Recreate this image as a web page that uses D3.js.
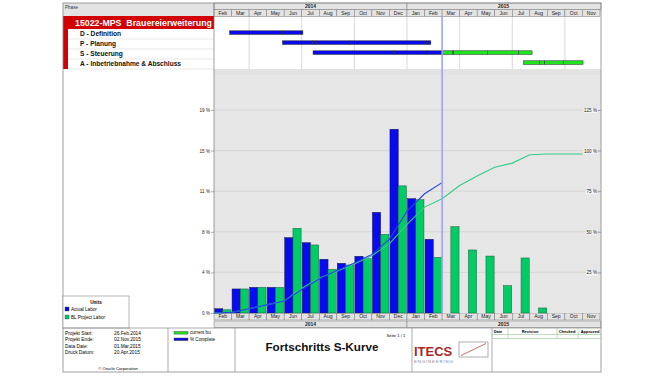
<!DOCTYPE html>
<html><head><meta charset="utf-8">
<script src="https://cdn.jsdelivr.net/npm/d3@7"></script>
<style>body{margin:0;background:#fff} text{font-family:"Liberation Sans",Arial,sans-serif}</style>
</head><body><svg id="c" width="660" height="380"></svg>
<script>
// ---------- data ----------
const monthNames = ["Feb","Mar","Apr","May","Jun","Jul","Aug","Sep","Oct","Nov","Dec","Jan","Feb","Mar","Apr","May","Jun","Jul","Aug","Sep","Oct","Nov"];
const years = ["2014","2015"];
const yearStartIdx = [0, 11];
const yearEndIdx = [11, 22];
// monthly labour in % of total (left axis)
const actualLabor = [0.4,2.25,2.4,2.4,7.05,6.58,5.03,4.65,5.31,9.42,17.2,10.7,6.9];
const blProjectLabor = [0.3,2.25,2.4,2.4,7.93,6.37,4.09,4.49,5.08,7.36,11.9,10.6,5.21,8.08,5.9,5.33,2.56,5.15,0.47,0,0,0];
// cumulative curves at month boundaries, starting 1 Feb 2014 (right axis)
const pctComplete = [0,0.4,2.6,5.0,7.4,14.5,21.1,26.1,30.8,36.1,45.5,62.7,73.4,80.3];
const currentBudget = [0,0.3,2.6,5.0,7.4,15.3,21.6,25.7,30.2,35.3,42.7,54.6,65.2,70.4,78.5,84.4,89.7,92.3,97.4,97.9,97.9,97.9];
const leftTicks = [0,3.8,7.6,11.4,15.2,19];
const leftTickLabels = ["0 %","4 %","8 %","11 %","15 %","19 %"];
const rightTicks = [25,50,75,100,125];
const rightTickLabels = ["25 %","50 %","75 %","100 %","125 %"];
const phases = ["D - Definition","P - Planung","S - Steuerung","A - Inbetriebnahme & Abschluss"];
const ganttActual = [
  ["2014-02-26","2014-05-29","2014-07-03"],
  ["2014-05-29","2014-07-20","2014-07-27","2014-09-22","2015-02-04","2015-02-11"],
  ["2014-07-21","2014-12-10","2015-02-05","2015-03-01"],
  []
];
const ganttRemaining = [
  [],
  [],
  ["2015-03-01","2015-03-19","2015-03-21","2015-05-19","2015-07-12","2015-08-05"],
  ["2015-07-21","2015-08-18","2015-08-27","2015-09-29","2015-11-02"]
];
const dataDate = "2015-03-01";
const projectTitle = "15022-MPS  Brauereierweiterung";
const infoLabels = ["Projekt Start:","Projekt Ende:","Data Date:","Druck Datum:"];
const infoValues = ["26.Feb.2014","02.Nov.2015","01.Mar.2015","20.Apr.2015"];
const revisionHeaders = ["Date","Revision","Checked","Approved"];

// ---------- layout ----------
const svg = d3.select("#c");
const L = 63, R = 601, T = 3, B = 372;
const X0 = 214, X1 = 600;
const chartTop = 75, chartBot = 313;
const font = 5;

const mIdx = s => { const [y,m,d] = s.split("-").map(Number); const dim = new Date(y, m, 0).getDate(); return (y-2014)*12 + (m-2) + (d-1)/dim; };
const xLin = d3.scaleLinear().domain([0, monthNames.length]).range([X0, X1]);
const xBand = d3.scaleBand().domain(d3.range(monthNames.length)).range([X0, X1]);
const bw = xBand.bandwidth();
const yL = d3.scaleLinear().domain([0, 19]).range([chartBot, 110]);
const yR = d3.scaleLinear().domain([0, 125]).range([chartBot, 110]);

// header left
svg.append("rect").attr("x",L).attr("y",T).attr("width",X0-L).attr("height",13).attr("fill","#e3e3e3");
svg.append("text").attr("x",L+2).attr("y",T+5.5).attr("font-size",4.6).attr("fill","#333").text("Phase");
svg.append("rect").attr("x",L).attr("y",16).attr("width",X0-L).attr("height",13).attr("fill","#d20000");
svg.append("text").attr("x",75).attr("y",26).attr("font-size",8.8).attr("font-weight","bold").attr("fill","#fff").style("white-space","pre").text(projectTitle);
svg.append("rect").attr("x",L).attr("y",29).attr("width",5).attr("height",40).attr("fill","#d20000");
phases.forEach((p,i)=>{
  const top = 29 + i*10;
  svg.append("line").attr("x1",68).attr("x2",X0).attr("y1",top+10).attr("y2",top+10).attr("stroke","#d8d8d8").attr("stroke-width",0.6);
  svg.append("text").attr("x",80).attr("y",top+7).attr("font-size",6.6).attr("font-weight","bold").attr("fill","#111").text(p);
});

// gantt area
svg.append("rect").attr("x",X0).attr("y",16).attr("width",R-X0).attr("height",53).attr("fill","#fff");
[2,5,8,11,14,17,20].forEach(i=>{
  svg.append("line").attr("x1",xLin(i)).attr("x2",xLin(i)).attr("y1",16).attr("y2",69).attr("stroke","#c8c8c8").attr("stroke-width",0.7);
});
function segs(arr){ const o=[]; for(let k=0;k<arr.length-1;k++) o.push([arr[k],arr[k+1]]); return o; }
phases.forEach((p,i)=>{
  const top = 29 + i*10 + 1.8;
  [[ganttActual[i],"#0a0aee"],[ganttRemaining[i],"#1ee61e"]].forEach(([arr,col])=>{
    svg.append("g").selectAll("rect").data(segs(arr)).join("rect")
      .attr("x",d=>xLin(mIdx(d[0]))).attr("width",d=>xLin(mIdx(d[1]))-xLin(mIdx(d[0])))
      .attr("y",top).attr("height",3.6).attr("fill",col).attr("stroke","#222").attr("stroke-width",0.5);
  });
});
svg.append("rect").attr("x",X0).attr("y",69).attr("width",R-X0).attr("height",6).attr("fill","#e3e3e3");

// timeline header
function timeHeader(yMonth, yYear){
  const g = svg.append("g");
  g.selectAll("rect.m").data(monthNames).join("rect").attr("class","m")
    .attr("x",(d,i)=>xBand(i)).attr("y",yMonth).attr("width",bw).attr("height",7)
    .attr("fill","#e3e3e3").attr("stroke","#777").attr("stroke-width",0.5);
  g.selectAll("text.m").data(monthNames).join("text").attr("class","m")
    .attr("x",(d,i)=>xBand(i)+bw/2).attr("y",yMonth+5.4).attr("text-anchor","middle")
    .attr("font-size",font).attr("fill","#222").text(d=>d);
  g.selectAll("rect.y").data(years).join("rect").attr("class","y")
    .attr("x",(d,i)=>xLin(yearStartIdx[i])).attr("y",yYear)
    .attr("width",(d,i)=>(i===years.length-1?R:xLin(yearEndIdx[i]))-xLin(yearStartIdx[i])).attr("height",6.5)
    .attr("fill","#e3e3e3").attr("stroke","#777").attr("stroke-width",0.5);
  g.selectAll("text.y").data(years).join("text").attr("class","y")
    .attr("x",(d,i)=>(xLin(yearStartIdx[i])+xLin(yearEndIdx[i]))/2).attr("y",yYear+5)
    .attr("text-anchor","middle").attr("font-size",font).attr("font-weight","bold").attr("fill","#222").text(d=>d);
}
timeHeader(9.5, 3);
timeHeader(313, 321);

// chart
svg.append("rect").attr("x",X0).attr("y",chartTop).attr("width",R-X0).attr("height",chartBot-chartTop).attr("fill","#e6e6e6");
svg.append("g").selectAll("line").data(leftTicks.slice(1)).join("line")
  .attr("x1",X0).attr("x2",R).attr("y1",d=>yL(d)).attr("y2",d=>yL(d)).attr("stroke","#d0d0d0").attr("stroke-width",0.7);

const bars = svg.append("g");
bars.selectAll("rect.a").data(actualLabor).join("rect").attr("class","a")
  .attr("x",(d,i)=>xBand(i)+0.5).attr("width",bw/2-0.5)
  .attr("y",d=>yL(d)).attr("height",d=>chartBot-yL(d))
  .attr("fill","#0a0af0").attr("stroke","#1a1a40").attr("stroke-width",0.5);
bars.selectAll("rect.b").data(blProjectLabor).join("rect").attr("class","b")
  .attr("x",(d,i)=>xBand(i)+bw/2).attr("width",bw/2-0.6)
  .attr("y",d=>yL(d)).attr("height",d=>chartBot-yL(d))
  .attr("fill","#00cc66").attr("stroke","#1d5a3a").attr("stroke-width",d=>d>0?0.5:0);

const line = d3.line().x((d,i)=>xLin(i)).y(d=>yR(d));
svg.append("path").datum(currentBudget).attr("d",line).attr("fill","none").attr("stroke","#33cc88").attr("stroke-width",1.1);
svg.append("path").datum(pctComplete).attr("d",line).attr("fill","none").attr("stroke","#2244e0").attr("stroke-width",1.1);

// data date
svg.append("line").attr("x1",xLin(mIdx(dataDate))).attr("x2",xLin(mIdx(dataDate))).attr("y1",16).attr("y2",chartBot)
  .attr("stroke","#a0a0ff").attr("stroke-width",1.6);

// axes
const axL = svg.append("g").attr("transform",`translate(${X0},0)`)
  .call(d3.axisLeft(yL).tickValues(leftTicks).tickFormat((d,i)=>leftTickLabels[i]).tickSize(3).tickPadding(1));
const axR = svg.append("g").attr("transform",`translate(${R},0)`)
  .call(d3.axisLeft(yR).tickValues(rightTicks).tickFormat((d,i)=>rightTickLabels[i]).tickSize(3).tickPadding(1));
[axL,axR].forEach(a=>{
  a.select(".domain").remove();
  a.selectAll("line").attr("stroke","#666").attr("stroke-width",0.5);
  a.selectAll("text").attr("font-size",4.6).attr("font-family","Liberation Sans, Arial").attr("fill","#222");
});
axR.selectAll(".tick").each(function(){
  const t = d3.select(this).select("text").node().getBBox();
  d3.select(this).insert("rect","text").attr("x",t.x-0.5).attr("y",t.y).attr("width",t.width+1).attr("height",t.height).attr("fill","#f4f4f4");
});

// borders
svg.append("line").attr("x1",X0).attr("x2",X0).attr("y1",T).attr("y2",chartBot).attr("stroke","#777").attr("stroke-width",0.7);
svg.append("rect").attr("x",L).attr("y",T).attr("width",R-L).attr("height",B-T).attr("fill","none").attr("stroke","#888").attr("stroke-width",0.8);

// units legend
svg.append("rect").attr("x",L).attr("y",296).attr("width",66).attr("height",32).attr("fill","#fff").attr("stroke","#888").attr("stroke-width",0.6);
svg.append("text").attr("x",96).attr("y",304).attr("text-anchor","middle").attr("font-size",4.6).attr("font-weight","bold").text("Units");
[["Actual Labor","#0a0af0",307],["BL Project Labor","#00cc66",315]].forEach(([t,c,y])=>{
  svg.append("rect").attr("x",65).attr("y",y).attr("width",4).attr("height",4).attr("fill",c).attr("stroke","#222").attr("stroke-width",0.3);
  svg.append("text").attr("x",71).attr("y",y+3.6).attr("font-size",4.6).text(t);
});

// footer
svg.append("line").attr("x1",L).attr("x2",R).attr("y1",328).attr("y2",328).attr("stroke","#888").attr("stroke-width",0.7);
[168,235,412,492].forEach(x=>svg.append("line").attr("x1",x).attr("x2",x).attr("y1",328).attr("y2",B).attr("stroke","#888").attr("stroke-width",0.7));
infoLabels.forEach((t,i)=>{
  svg.append("text").attr("x",65).attr("y",334.5+i*6.5).attr("font-size",4.8).text(t);
  svg.append("text").attr("x",114).attr("y",334.5+i*6.5).attr("font-size",4.8).text(infoValues[i]);
});
svg.append("text").attr("x",118).attr("y",369.5).attr("text-anchor","middle").attr("font-size",4.2).text("© Oracle Corporation");
[["current bu","#22dd22",331.5],["% Complete","#1010e0",338]].forEach(([t,c,y])=>{
  svg.append("rect").attr("x",174).attr("y",y).attr("width",14).attr("height",2.6).attr("fill",c).attr("stroke","#333").attr("stroke-width",0.4);
  svg.append("text").attr("x",190).attr("y",y+2.8).attr("font-size",4.6).text(t);
});
svg.append("text").attr("x",322).attr("y",351).attr("text-anchor","middle").attr("font-size",11.7).attr("font-weight","bold").attr("fill","#111").text("Fortschritts S-Kurve");
svg.append("text").attr("x",396).attr("y",337).attr("text-anchor","middle").attr("font-size",4.2).text("Seite 1 / 1");
svg.append("text").attr("x",414).attr("y",356).attr("font-size",13).attr("font-weight","bold").attr("fill","#a82828").text("ITECS");
svg.append("text").attr("x",414).attr("y",362.5).attr("font-size",4.4).attr("fill","#888").attr("textLength",39).text("ENGINEERING");
svg.append("rect").attr("x",459).attr("y",342).attr("width",29).attr("height",15).attr("fill","#fff").attr("stroke","#999").attr("stroke-width",0.8);
svg.append("line").attr("x1",461).attr("y1",355.5).attr("x2",486).attr("y2",343.5).attr("stroke","#c04848").attr("stroke-width",0.8);
// revision table
const revX = [498,530,567,590];
revisionHeaders.forEach((t,i)=>svg.append("text").attr("x",revX[i]).attr("y",333).attr("text-anchor","middle").attr("font-size",4).attr("font-weight","bold").text(t));
[334.5,338.5].forEach(y=>svg.append("line").attr("x1",492).attr("x2",R).attr("y1",y).attr("y2",y).attr("stroke","#8fc88f").attr("stroke-width",0.6));
[508,557,578].forEach(x=>svg.append("line").attr("x1",x).attr("x2",x).attr("y1",328).attr("y2",338.5).attr("stroke","#8fc88f").attr("stroke-width",0.6));
</script></body></html>
